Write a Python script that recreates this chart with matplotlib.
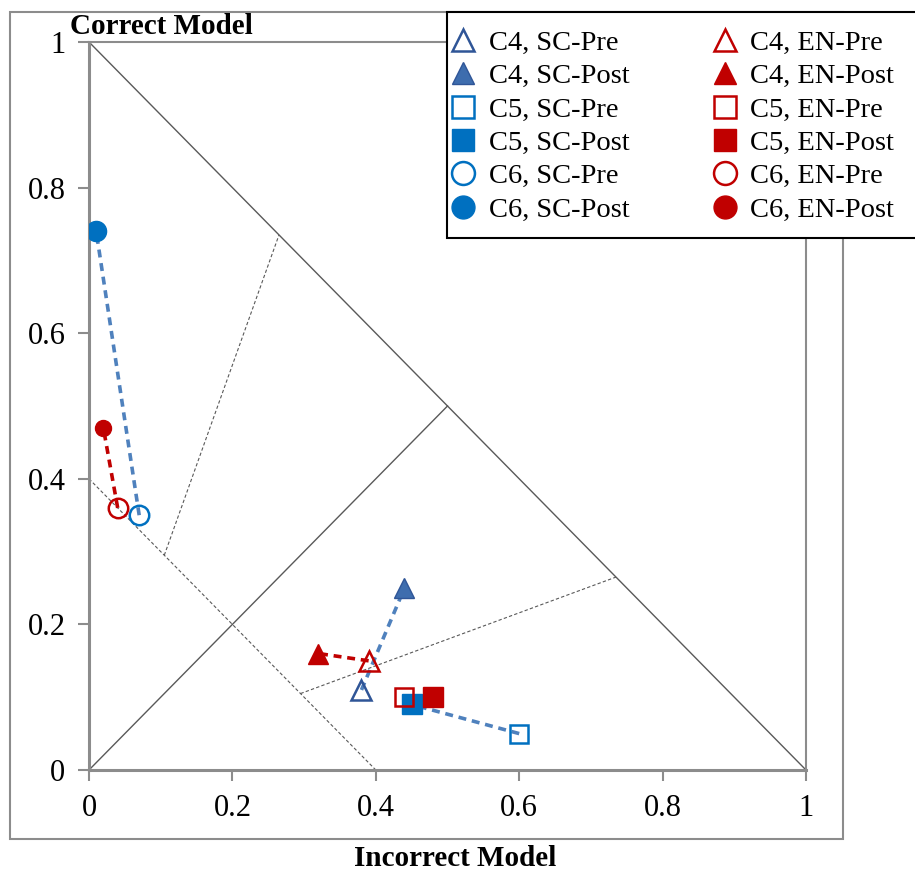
import matplotlib
matplotlib.use("Agg")
import matplotlib.pyplot as plt
from matplotlib.lines import Line2D
from matplotlib.patches import Rectangle
from matplotlib.ticker import FuncFormatter

plt.rcParams["font.family"] = ["Liberation Serif", "DejaVu Serif"]

# Data: (incorrect model, correct model) per configuration
configs = ["C4", "C5", "C6"]
markers = ["^", "s", "o"]

sc_pre_x = [0.38, 0.60, 0.07]
sc_pre_y = [0.11, 0.05, 0.35]
sc_post_x = [0.44, 0.45, 0.01]
sc_post_y = [0.25, 0.09, 0.74]

en_pre_x = [0.39, 0.44, 0.04]
en_pre_y = [0.15, 0.10, 0.36]
en_post_x = [0.32, 0.48, 0.02]
en_post_y = [0.16, 0.10, 0.47]

# Region guide lines
solid_guides = [([0, 1], [1, 0]), ([0, 0.5], [0, 0.5])]
dashed_guides = [([0, 0.4], [0.4, 0]),
                 ([0.105, 0.265], [0.295, 0.735]),
                 ([0.295, 0.735], [0.105, 0.265])]

ticks = [0, 0.2, 0.4, 0.6, 0.8, 1]

SC_BLUE = "#0070C0"
SC_DARK = "#2F5597"
SC_TRI = "#3E6DAE"
SC_LINE = "#4F81BD"
EN_RED = "#C00000"

W, H = 915, 871
fig = plt.figure(figsize=(W / 100, H / 100), dpi=100)
ax = fig.add_axes([89 / W, 1 - 770 / H, (806 - 89) / W, (770 - 42) / H])

# outer chart border
fig.patches.append(Rectangle((10 / W, 1 - 839 / H), 833 / W, 827 / H,
                             transform=fig.transFigure, fill=False,
                             edgecolor="#8c8c8c", linewidth=1.5, zorder=0))
# legend frame (drawn separately so the padding can match)
fig.patches.append(Rectangle((447 / W, 1 - 238 / H), 500 / W, 226 / H,
                             transform=fig.transFigure, facecolor="white",
                             edgecolor="black", linewidth=1.5, zorder=4))

for xs, ys in solid_guides:
    ax.plot(xs, ys, color="#595959", linewidth=1.0, zorder=1)
for xs, ys in dashed_guides:
    ax.plot(xs, ys, color="#595959", linewidth=0.8, linestyle=(0, (3, 2)), zorder=1)

# connecting lines pre -> post
for i in range(3):
    ax.plot([sc_pre_x[i], sc_post_x[i]], [sc_pre_y[i], sc_post_y[i]],
            color=SC_LINE, linewidth=2.6, linestyle=(0, (2.2, 1.6)), zorder=2)
    ax.plot([en_pre_x[i], en_post_x[i]], [en_pre_y[i], en_post_y[i]],
            color=EN_RED, linewidth=2.6, linestyle=(0, (2.2, 1.6)), zorder=2)

sizes = [14.5, 14, 14.5]
en_post_sizes = [14.5, 14, 11.5]
sc_pre_edge = [SC_DARK, SC_BLUE, SC_BLUE]
sc_post_fill = [SC_TRI, SC_BLUE, SC_BLUE]
sc_post_edge = [SC_DARK, SC_BLUE, SC_BLUE]

LEG_MS = 16.5
handles_sc = []
handles_en = []
for i, cfg in enumerate(configs):
    pre = dict(marker=markers[i], markerfacecolor="none",
               markeredgecolor=sc_pre_edge[i], markeredgewidth=1.8)
    post = dict(marker=markers[i], markerfacecolor=sc_post_fill[i],
                markeredgecolor=sc_post_edge[i], markeredgewidth=1.0)
    ax.plot(sc_pre_x[i], sc_pre_y[i], linestyle="none", markersize=sizes[i] - 0.5,
            zorder=3, **pre)
    ax.plot(sc_post_x[i], sc_post_y[i], linestyle="none", markersize=sizes[i],
            zorder=3, **post)
    handles_sc.append(Line2D([], [], linestyle="none", markersize=LEG_MS,
                             label=f"{cfg}, SC-Pre", **pre))
    handles_sc.append(Line2D([], [], linestyle="none", markersize=LEG_MS,
                             label=f"{cfg}, SC-Post", **post))
for i, cfg in enumerate(configs):
    pre = dict(marker=markers[i], markerfacecolor="none",
               markeredgecolor=EN_RED, markeredgewidth=1.8)
    post = dict(marker=markers[i], markerfacecolor=EN_RED,
                markeredgecolor=EN_RED, markeredgewidth=1.0)
    ax.plot(en_pre_x[i], en_pre_y[i], linestyle="none", markersize=sizes[i] - 0.5,
            zorder=4, **pre)
    ax.plot(en_post_x[i], en_post_y[i], linestyle="none",
            markersize=en_post_sizes[i], zorder=4, **post)
    handles_en.append(Line2D([], [], linestyle="none", markersize=LEG_MS,
                             label=f"{cfg}, EN-Pre", **pre))
    handles_en.append(Line2D([], [], linestyle="none", markersize=LEG_MS,
                             label=f"{cfg}, EN-Post", **post))

ax.set_xlim(0, 1)
ax.set_ylim(0, 1)
ax.set_xticks(ticks)
ax.set_yticks(ticks)
fmt = FuncFormatter(lambda v, p: f"{v:g}")
ax.xaxis.set_major_formatter(fmt)
ax.yaxis.set_major_formatter(fmt)
ax.tick_params(axis="both", direction="out", length=8, width=1.5, color="#8c8c8c",
               labelsize=22)
ax.tick_params(axis="x", pad=9)
ax.tick_params(axis="y", pad=9)

for side in ["left", "bottom"]:
    ax.spines[side].set_color("#8c8c8c")
    ax.spines[side].set_linewidth(2.2)
for side in ["top", "right"]:
    ax.spines[side].set_color("#8c8c8c")
    ax.spines[side].set_linewidth(1.5)

fig.text(70 / W, 1 - 27 / H, "Correct Model", fontsize=21, fontweight="bold",
         ha="left", va="center")
fig.text(455 / W, 1 - 858 / H, "Incorrect Model", fontsize=21, fontweight="bold",
         ha="center", va="center")

leg = fig.legend(handles=handles_sc + handles_en, ncol=2,
                 loc="upper left", bbox_to_anchor=(449 / W, 1 - 30 / H),
                 borderaxespad=0, borderpad=0, fontsize=20.5, frameon=False,
                 handlelength=1.0, handletextpad=0.4, columnspacing=2.85,
                 labelspacing=0.26)
leg.set_zorder(5)

fig.savefig("out.png", dpi=100)
